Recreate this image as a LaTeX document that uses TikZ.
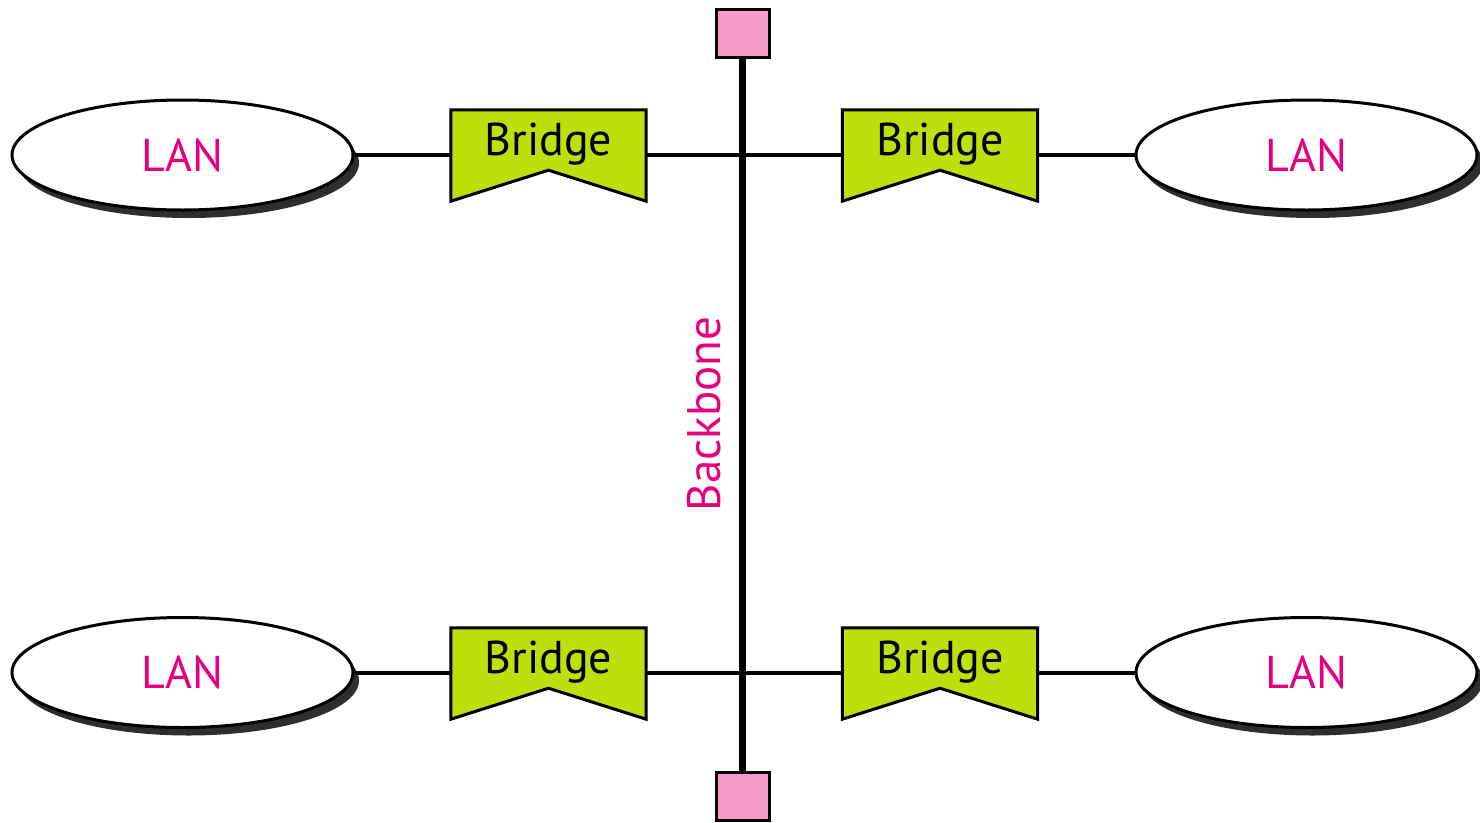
\documentclass[tikz,border=0pt]{standalone}
\usepackage{fontspec}
\setmainfont{PT Sans}
\usetikzlibrary{shapes.geometric,shadows,calc}
\definecolor{lanpink}{HTML}{E6007E}
\definecolor{termpink}{HTML}{F59AC9}
\definecolor{bridgegreen}{HTML}{BEDF0C}
\tikzset{
  lan/.style={ellipse, draw=black, line width=3pt, fill=white, minimum width=341pt, minimum height=110pt, inner sep=0pt,
    drop shadow={shadow xshift=6pt, shadow yshift=-8pt, fill=black!82, opacity=1},
    font=\fontsize{46}{52}\selectfont, text=lanpink},
  bridgebox/.style={rectangle, minimum width=195pt, minimum height=91pt, inner sep=0pt},
  bridgeshape/.style={draw=black, line width=3pt, fill=bridgegreen, line join=miter},
  bridgetext/.style={font=\fontsize{46}{52}\selectfont, text=black},
  term/.style={rectangle, draw=black, line width=3pt, fill=termpink, minimum width=53pt, minimum height=48pt, inner sep=0pt},
  link/.style={line width=4pt, draw=black},
  bone/.style={line width=7pt, draw=black},
}
\newcommand{\bridgeat}[2]{%
  \node[bridgebox] (#1) at (#2) {};
  \draw[bridgeshape] (#1.north west) -- (#1.north east) -- (#1.south east) -- ($(#1.south)+(0,-31)$) -- (#1.south west) -- cycle;
  \node[bridgetext] (#1t) at ($(#1.center)+(0,-11)$) {Bridge};
}
\begin{document}
\begin{tikzpicture}[x=1pt,y=-1pt]
\useasboundingbox (0,0) rectangle (1480,822);
% terminators and backbone
\node[term] (t1) at (742.5,33) {};
\node[term] (t2) at (742.5,796) {};
% LANs
\node[lan] (l1) at (182.5,155) {LAN};
\node[lan] (l2) at (1306.5,155) {LAN};
\node[lan] (l3) at (182.5,672.5) {LAN};
\node[lan] (l4) at (1306.5,672.5) {LAN};
% bridges
\bridgeat{b1}{548.5,155.5}
\bridgeat{b2}{940,155.5}
\bridgeat{b3}{548.5,673.5}
\bridgeat{b4}{940,673.5}
% connectors
\draw[link] (l1.east) -- (b1.west |- l1.east);
\draw[link] (b2.east |- l2.west) -- (l2.west);
\draw[link] (l3.east) -- (b3.west |- l3.east);
\draw[link] (b4.east |- l4.west) -- (l4.west);
\draw[link] (b1.east |- l1.east) -- (b2.west |- l1.east);
\draw[link] (b3.east |- l3.east) -- (b4.west |- l3.east);
\draw[bone] (t1.south) -- (t2.north);
\node[rotate=90, font=\fontsize{47}{53}\selectfont, text=lanpink] (bb) at (704,414) {Backbone};
\end{tikzpicture}
\end{document}
